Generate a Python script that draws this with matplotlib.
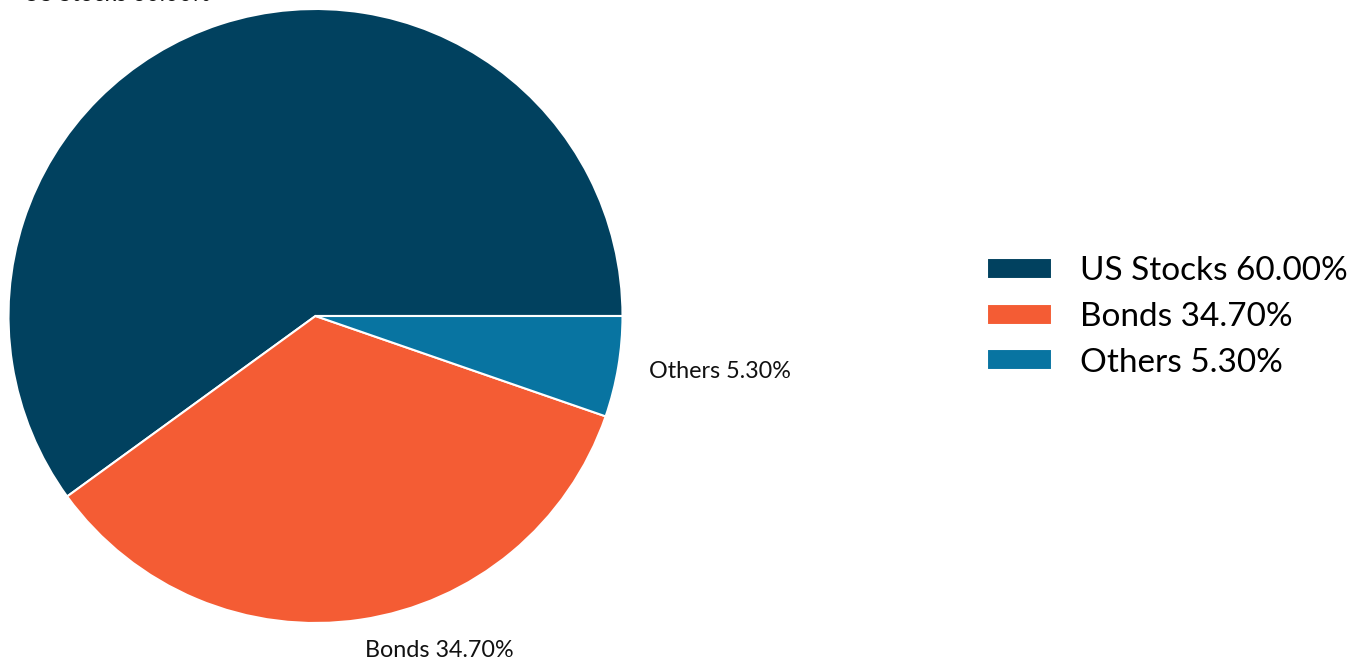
import matplotlib.pyplot as plt

# Allocation du portefeuille
categories = ['US Stocks', 'Bonds', 'Others']
valeurs = [60.00, 34.70, 5.30]
couleurs = ['#01415F', '#F45C34', '#0874A1']

etiquettes = [f"{c} {v:.2f}%" for c, v in zip(categories, valeurs)]

plt.rcParams['font.family'] = ['Lato', 'DejaVu Sans']

fig = plt.figure(figsize=(13.64, 6.6), dpi=100)
ax = fig.add_axes([8.5 / 1364, 37 / 660, 614 / 1364, 614 / 660], frame_on=False)

wedges, textes = ax.pie(valeurs, labels=etiquettes, colors=couleurs,
                        startangle=0, counterclock=True, labeldistance=1.1,
                        wedgeprops={'edgecolor': 'white', 'linewidth': 1.5},
                        textprops={'fontsize': 16.8, 'color': '#111111'})
ax.set_xlim(-1, 1)
ax.set_ylim(-1, 1)
ax.set_aspect('auto')

fig.legend(wedges, etiquettes, loc='center left',
           bbox_to_anchor=(987 / 1364, 1 - 317 / 660),
           frameon=False, fontsize=24, borderpad=0, borderaxespad=0,
           handlelength=1.95, handleheight=0.6, handletextpad=0.84,
           labelspacing=0.47)

fig.savefig('out.png', dpi=100)
